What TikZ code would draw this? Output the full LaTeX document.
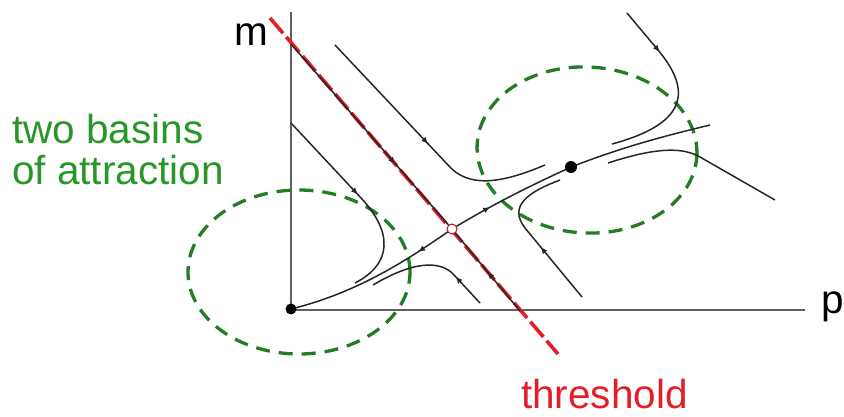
\documentclass[tikz,border=0pt]{standalone}
\usepackage{fontspec}
\setmainfont{Liberation Sans}
\usetikzlibrary{arrows.meta,decorations.markings,shapes.geometric}
\definecolor{basingreen}{RGB}{40,150,40}
\definecolor{ellgreen}{RGB}{35,125,35}
\definecolor{thred}{RGB}{228,30,38}
\definecolor{axisgray}{RGB}{95,95,95}
\tikzset{
  traj/.style={draw=black!85, line width=1.5pt},
  arr/.style={postaction={decorate,decoration={markings,
     mark=at position #1 with {\arrow{Latex[length=7pt,width=6pt]}}}}},
  basin/.style={draw=ellgreen, line width=3.3pt, dash pattern=on 14pt off 9pt},
  axisline/.style={draw=axisgray, line width=1.8pt},
  lbl/.style={font=\fontsize{40.5}{44}\selectfont, inner sep=0pt, anchor=base west},
}
\begin{document}
\begin{tikzpicture}[x=1pt,y=-1pt]
\useasboundingbox (0,0) rectangle (844,416);
% axes
\coordinate (ytop) at (291,12);
\coordinate (O) at (291,310);
\coordinate (xend) at (805,310);
\draw[axisline] (ytop) -- (O) -- (xend);
% basins
\node[basin, ellipse, minimum width=222pt, minimum height=164pt, inner sep=0pt] (b1) at (299,272) {};
\node[basin, ellipse, minimum width=220pt, minimum height=166pt, inner sep=0pt, rotate=-3] (b2) at (587,150) {};
% threshold
\coordinate (tA) at (270,18);
\coordinate (tB) at (558,354);
\draw[draw=thred, line width=3.6pt, dash pattern=on 20pt off 5pt] (tA) -- (tB);
% points
\coordinate (S) at (452,229);
\coordinate (N) at (571,167);
% stable manifold of saddle
\coordinate (s1) at (291,44);
\coordinate (s2) at (520,311);
\draw[traj, arr=159pt] (s1) -- (S);
\draw[traj, arr=51pt] (s2) -- (S);
% unstable manifold
\coordinate (u2) at (710,125);
\draw[traj, arr=41pt] (S) .. controls (410,258) and (360,292) .. (291,309);
\draw[traj, arr=44pt] (S) .. controls (495,203) and (530,186) .. (N) .. controls (620,148) and (660,137) .. (u2);
% other trajectories
\draw[traj, arr=136pt] (335,45) -- (448,165) .. controls (468,188) and (500,184) .. (545,165);
\draw[traj, arr=98pt] (291,123) -- (362,199) .. controls (393,233) and (392,264) .. (355,283);
\draw[traj, arr=36pt] (480,303) -- (455,276) .. controls (440,258) and (410,263) .. (373,285);
\draw[traj, arr=65pt] (582,297) -- (525,228) .. controls (508,206) and (528,192) .. (560,180);
\draw[traj, arr=51pt] (627,13) -- (658,50) .. controls (688,86) and (694,122) .. (612,144);
\draw[traj] (775,200) -- (700,157) .. controls (684,148) and (660,146) .. (608,163);
% fixed points
\node[circle, fill=black, minimum size=11pt, inner sep=0pt] (origin) at (291,309) {};
\node[circle, fill=black, minimum size=12pt, inner sep=0pt] (node) at (N) {};
\node[circle, draw=thred!80!black, fill=white, line width=1pt, minimum size=10pt, inner sep=0pt] (saddle) at (S) {};
% labels
\node[lbl] (m) at (234,45) {m};
\node[lbl] (p) at (821,313) {p};
\node[lbl, text=basingreen] (t1) at (12,143) {two basins};
\node[lbl, text=basingreen] (t2) at (12,184) {of attraction};
\node[lbl, text=thred] (th) at (521,408) {threshold};
\end{tikzpicture}
\end{document}
